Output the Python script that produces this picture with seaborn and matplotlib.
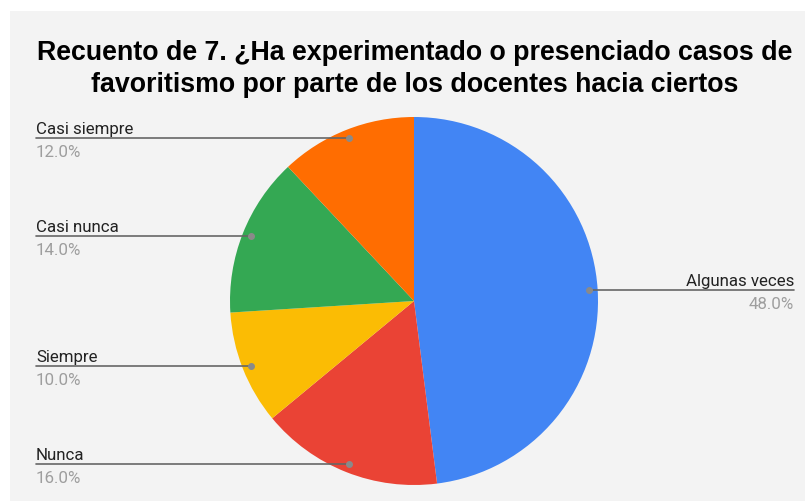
import numpy as np
import matplotlib
matplotlib.use("Agg")
import matplotlib.pyplot as plt
from matplotlib.patches import Rectangle
import seaborn as sns

categories = ["Algunas veces", "Nunca", "Siempre", "Casi nunca", "Casi siempre"]
values = [48.0, 16.0, 10.0, 14.0, 12.0]
pct_labels = ["48.0%", "16.0%", "10.0%", "14.0%", "12.0%"]
colors_hex = ["#4285F4", "#EA4335", "#FBBC04", "#34A853", "#FF6D01"]
title = "Recuento de 7. ¿Ha experimentado o presenciado casos de\nfavoritismo por parte de los docentes hacia ciertos"

sns.set_theme(style="white")
plt.rcParams['font.family'] = ['Roboto', 'DejaVu Sans']
palette = sns.color_palette(colors_hex)

W, H = 805, 502
fig = plt.figure(figsize=(W / 100, H / 100), dpi=100)
fig.patch.set_facecolor("white")
fig.patches.append(Rectangle((10 / W, 0), 1 - 10 / W, 1 - 12 / H, transform=fig.transFigure,
                             facecolor="#f3f3f3", edgecolor="none", zorder=-10))

cx, cy, R = 414, 302, 184
ax = fig.add_axes([(cx - R) / W, (H - cy - R) / H, 2 * R / W, 2 * R / H])
ax.set_zorder(5)
ax.set_facecolor("none")
wedges, _ = ax.pie(values, colors=palette, startangle=90, counterclock=False,
                   radius=1.0, wedgeprops=dict(linewidth=0))
ax.set_xlim(-1, 1)
ax.set_ylim(-1, 1)
ax.set_axis_off()

def px2dx(px):
    return (px - cx) / R

total = sum(values)
cum = 0.0
for cat, v, pl in zip(categories, values, pct_labels):
    mid = (cum + v / 2) / total * 360.0
    cum += v
    ang = np.deg2rad(mid)
    r = 0.955
    dx, dy = r * np.sin(ang), r * np.cos(ang)
    if dx >= 0:
        xe = px2dx(794)
        ha = "right"
    else:
        xe = px2dx(36)
        ha = "left"
    ax.plot([dx, xe], [dy, dy], color="#666666", lw=1.2, clip_on=False, zorder=5)
    ax.plot([dx], [dy], marker="o", ms=4, color="#8a8a8a", clip_on=False, zorder=6)
    ax.text(xe, dy + 5 / R, cat, ha=ha, va="baseline", fontsize=12.2, color="#222222", clip_on=False)
    ax.text(xe, dy - 18 / R, pl, ha=ha, va="baseline", fontsize=12.2, color="#9e9e9e", clip_on=False)

fig.text(415 / W, 1 - 69 / H, title, ha="center", va="center", fontsize=19.3,
         fontweight="bold", family=["Liberation Sans", "DejaVu Sans"], color="#000000",
         linespacing=1.35)

fig.savefig("out.png", dpi=100, facecolor=fig.get_facecolor())
